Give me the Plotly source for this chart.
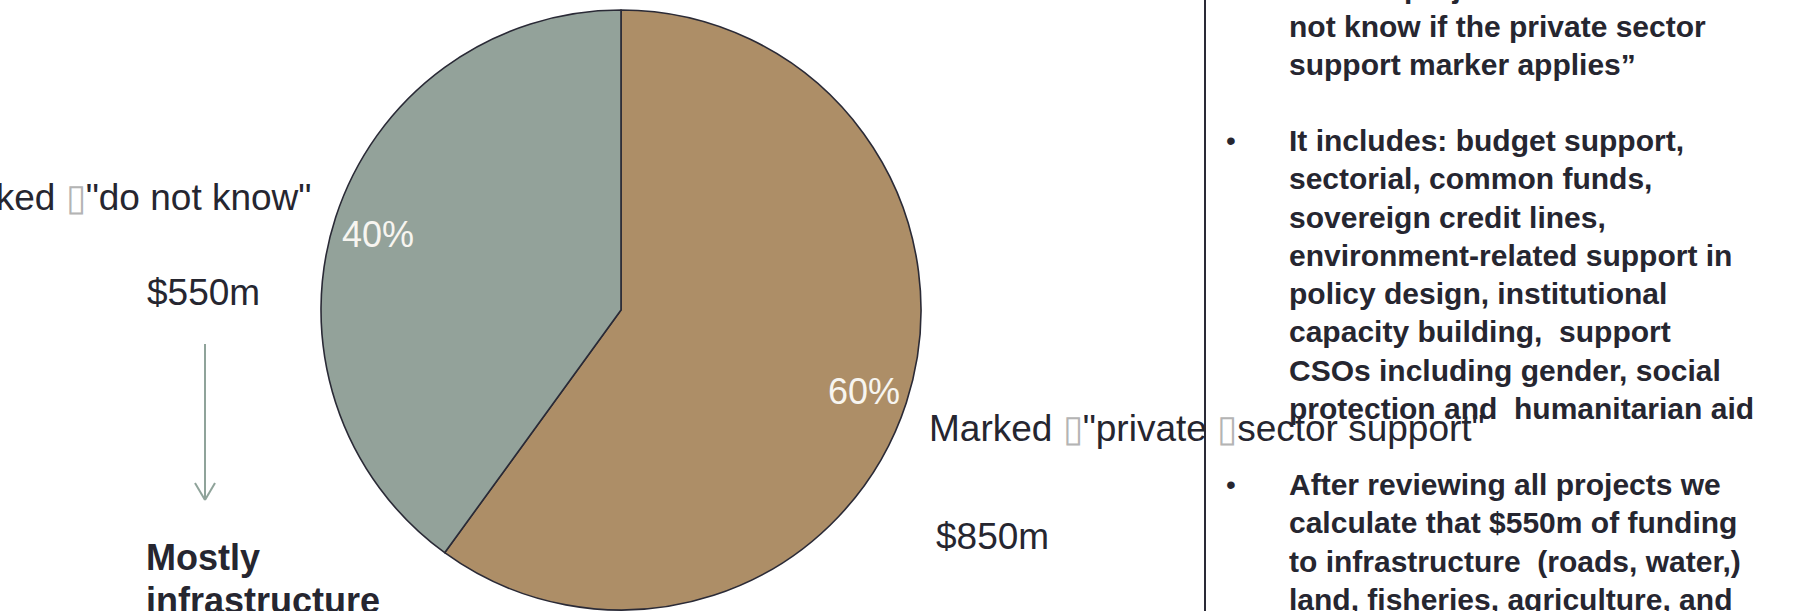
import math
import plotly.graph_objects as go

# Share of funding (%) by private-sector-support marker, with the dollar totals
labels = ["Marked \"private sector support\"", "Marked \"do not know\""]
shares = [60, 40]
colors = ["#ad8e67", "#93a29a"]
amount_labels = ["$850m", "$550m"]

notes = [
    ("", "Several projects marked as \u201cdo"),
    ("", "not know if the private sector"),
    ("", "support marker applies\u201d"),
    ("", ""),
    ("\u2022", "It includes: budget support,"),
    ("", "sectorial, common funds,"),
    ("", "sovereign credit lines,"),
    ("", "environment-related support in"),
    ("", "policy design, institutional"),
    ("", "capacity building,  support"),
    ("", "CSOs including gender, social"),
    ("", "protection and  humanitarian aid"),
    ("", ""),
    ("\u2022", "After reviewing all projects we"),
    ("", "calculate that $550m of funding"),
    ("", "to infrastructure  (roads, water,)"),
    ("", "land, fisheries, agriculture, and"),
]

W, H = 1799, 611
TEXT = "#262630"
FONT = "Liberation Sans, Arial, sans-serif"
TOFU = '<span style="color:#b4b4b4">\u25af</span>'


def px(x):
    return x / W


def py(y):
    return 1 - y / H


# pie geometry in page pixels
cx, cy, R = 621, 310, 300

fig = go.Figure()
fig.add_trace(go.Pie(
    labels=labels, values=shares, sort=False, direction="clockwise",
    rotation=0, textinfo="none", hoverinfo="label+percent",
    marker=dict(colors=colors, line=dict(color="#2a2a36", width=1.6)),
    domain=dict(x=[px(cx - R), px(cx + R)], y=[py(cy + R), py(cy - R)]),
    showlegend=False,
))

annotations = []
# percentage labels placed along each slice's mid-angle
total = sum(shares)
cum = 0.0
for v in shares:
    frac = v / total
    theta = 2 * math.pi * (cum + frac / 2)
    cum += frac
    r = 0.85 * R
    annotations.append(dict(
        xref="paper", yref="paper",
        x=px(cx + r * math.sin(theta)), y=py(cy + 3 - r * math.cos(theta)),
        text=f"{round(frac * 100)}%", showarrow=False,
        font=dict(family=FONT, size=36, color="#f7f5f0"),
        xanchor="center", yanchor="middle"))


def label(x, y, text, anchor="left", size=37, bold=False):
    if bold:
        text = f"<b>{text}</b>"
    annotations.append(dict(xref="paper", yref="paper", x=px(x), y=py(y),
                            text=text, showarrow=False,
                            font=dict(family=FONT, size=size, color=TEXT),
                            xanchor=anchor, yanchor="middle"))


label(927, 428, f"Marked {TOFU}\"private {TOFU}sector support\"")
label(934, 536, amount_labels[0])
label(313, 198, f"Marked {TOFU}\"do not know\"", anchor="right")
label(145, 292, amount_labels[1])
label(144, 557, "Mostly", bold=True, size=36)
label(144, 600, "infrastructure", bold=True, size=36)

# explanatory notes to the right of the divider
line_h = 38.2
y0 = -12
for i, (bullet, line) in enumerate(notes):
    y = y0 + i * line_h
    if bullet:
        label(1231, y, bullet, anchor="center", size=28)
    if line:
        label(1287, y, line, size=30, bold=True)


def seg(x0, y0_, x1, y1, color, width=2):
    return dict(type="line", xref="paper", yref="paper",
                x0=px(x0), y0=py(y0_), x1=px(x1), y1=py(y1),
                line=dict(color=color, width=width))


shapes = [
    # divider
    seg(1205, 0, 1205, H, "#2a2a36"),
    # downward arrow under $550m
    seg(205, 344, 205, 500, "#8fa39a"),
    seg(195, 483, 205, 500, "#8fa39a"),
    seg(215, 483, 205, 500, "#8fa39a"),
]

fig.update_layout(
    width=W, height=H, margin=dict(l=0, r=0, t=0, b=0),
    paper_bgcolor="white", plot_bgcolor="rgba(0,0,0,0)",
    annotations=annotations, shapes=shapes,
)

fig.write_html("out.html")
